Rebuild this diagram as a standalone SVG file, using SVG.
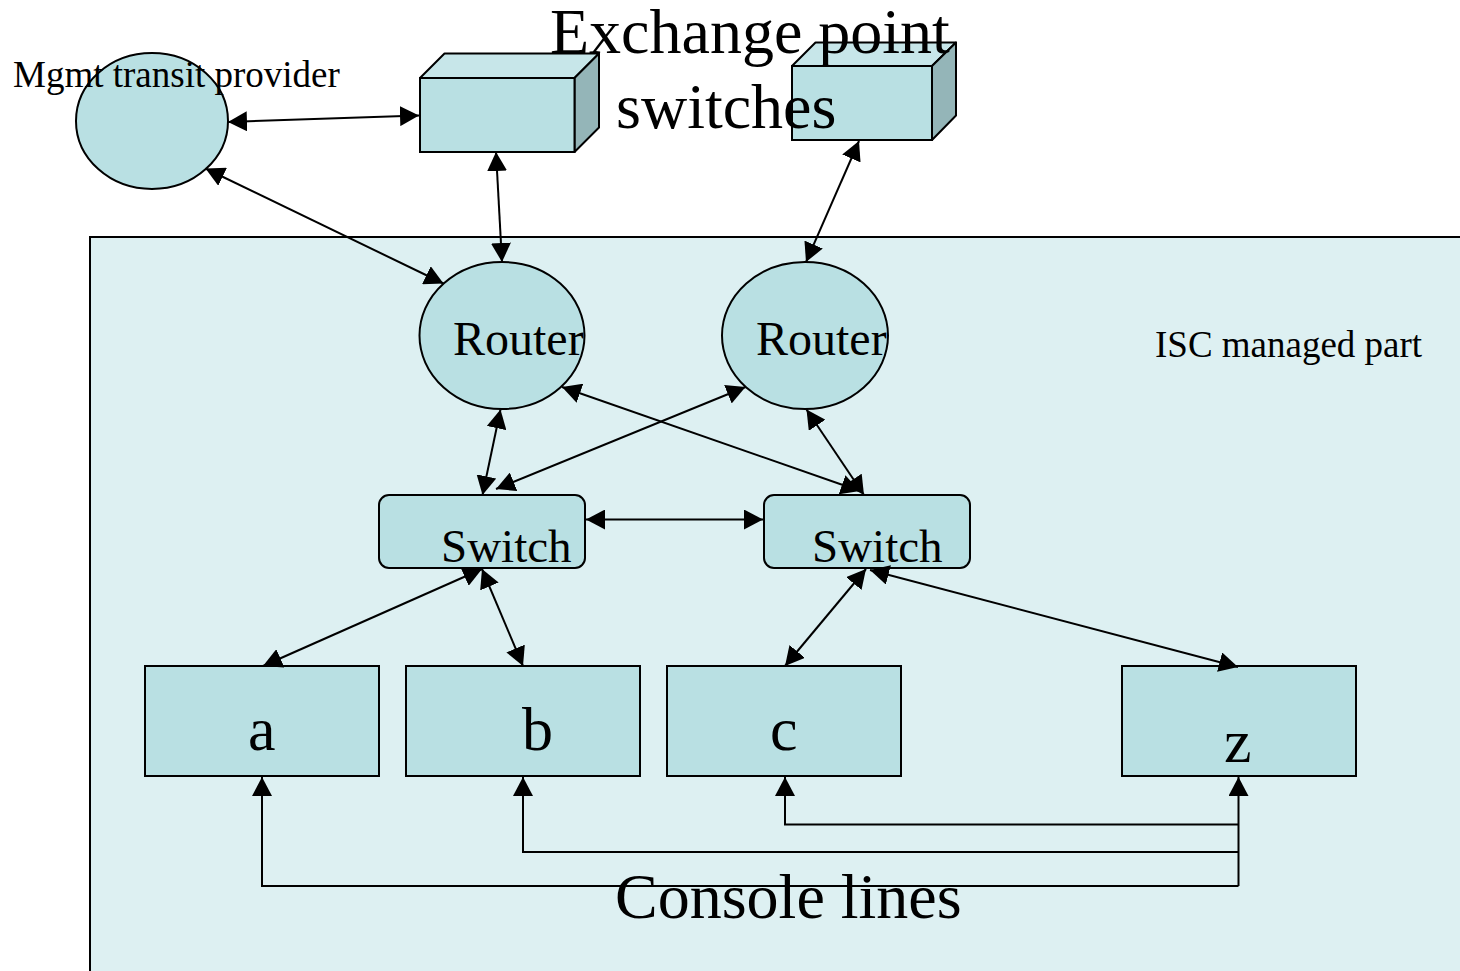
<svg xmlns="http://www.w3.org/2000/svg" width="1460" height="971" viewBox="0 0 1460 971">
<style>
.node{fill:#B9E0E3;stroke:#000;stroke-width:2}
.top{fill:#C7E6E9;stroke:#000;stroke-width:2;stroke-linejoin:round}
.side{fill:#94B5B8;stroke:#000;stroke-width:2;stroke-linejoin:round}
.edge{fill:none;stroke:#000;stroke-width:2;marker-start:url(#ah);marker-end:url(#ah)}
.cons{fill:none;stroke:#000;stroke-width:2}
.t{font-family:"Liberation Serif","Times New Roman",serif;fill:#000}
</style>
<defs>
<marker id="ah" viewBox="0 0 20 20" refX="19" refY="10" markerWidth="20" markerHeight="20" markerUnits="userSpaceOnUse" orient="auto-start-reverse">
<path d="M0,0 L19,10 L0,20 z" fill="#000"/>
</marker>
<marker id="up" viewBox="0 0 20 20" refX="19" refY="10" markerWidth="20" markerHeight="20" markerUnits="userSpaceOnUse" orient="auto">
<path d="M0,0 L19,10 L0,20 z" fill="#000"/>
</marker>
</defs>
<rect x="0" y="0" width="1460" height="971" fill="#fff"/>
<g id="isc-area">
<rect x="90" y="237" width="1420" height="800" fill="#DDF0F2" stroke="#000" stroke-width="2"/>
<text class="t" x="1155" y="357" font-size="37">ISC managed part</text>
</g>
<g id="mgmt">
<ellipse class="node" cx="152" cy="121" rx="76" ry="68"/>
</g>
<g id="exchange1">
<polygon class="top" points="420,78 444.5,53.5 599,53.5 574.5,78"/>
<polygon class="side" points="574.5,78 599,53.5 599,127.5 574.5,152"/>
<rect class="node" x="420" y="78" width="154.5" height="74"/>
</g>
<g id="exchange2">
<polygon class="top" points="792,66 815.5,42.5 956,42.5 932,66"/>
<polygon class="side" points="932,66 956,42.5 956,115.5 932,140"/>
<rect class="node" x="792" y="66" width="140" height="74"/>
</g>
<g id="router1">
<ellipse class="node" cx="502" cy="335.5" rx="82.5" ry="73.5"/>
<text class="t" x="453" y="355" font-size="48">Router</text>
</g>
<g id="router2">
<ellipse class="node" cx="805" cy="335.5" rx="83" ry="73.5"/>
<text class="t" x="756" y="355" font-size="48">Router</text>
</g>
<g id="switch1">
<rect class="node" x="379" y="495" width="206" height="73" rx="10" ry="10"/>
<text class="t" x="441" y="562" font-size="47">Switch</text>
</g>
<g id="switch2">
<rect class="node" x="764" y="495" width="206" height="73" rx="10" ry="10"/>
<text class="t" x="812" y="562" font-size="47">Switch</text>
</g>
<g id="host-a">
<rect class="node" x="145" y="666" width="234" height="110"/>
<text class="t" x="248" y="750" font-size="62">a</text>
</g>
<g id="host-b">
<rect class="node" x="406" y="666" width="234" height="110"/>
<text class="t" x="522" y="750" font-size="62">b</text>
</g>
<g id="host-c">
<rect class="node" x="667" y="666" width="234" height="110"/>
<text class="t" x="770" y="750" font-size="62">c</text>
</g>
<g id="host-z">
<rect class="node" x="1122" y="666" width="234" height="110"/>
<text class="t" x="1224" y="762" font-size="62">z</text>
</g>
<g id="connectors">
<line class="edge" x1="228" y1="122" x2="419" y2="115.5"/>
<line class="edge" x1="205.5" y1="168.5" x2="443.5" y2="283.5"/>
<line class="edge" x1="496" y1="152" x2="502" y2="262"/>
<line class="edge" x1="859" y1="141" x2="806" y2="262"/>
<line class="edge" x1="500.5" y1="409.5" x2="482.5" y2="495"/>
<line class="edge" x1="745.5" y1="387" x2="496" y2="489"/>
<line class="edge" x1="562" y1="387" x2="860" y2="491"/>
<line class="edge" x1="806.5" y1="409.5" x2="864" y2="495"/>
<line class="edge" x1="586" y1="519.5" x2="763" y2="519.5"/>
<line class="edge" x1="482" y1="569" x2="263" y2="666"/>
<line class="edge" x1="482" y1="569" x2="523" y2="666"/>
<line class="edge" x1="866" y1="569" x2="785" y2="666"/>
<line class="edge" x1="870" y1="570" x2="1238" y2="667"/>
<polyline class="cons" marker-end="url(#up)" points="1238.5,886 262,886 262,777"/>
<polyline class="cons" marker-end="url(#up)" points="1238.5,852 523,852 523,777"/>
<polyline class="cons" marker-end="url(#up)" points="1238.5,824.5 785,824.5 785,777"/>
<polyline class="cons" marker-end="url(#up)" points="1238.5,886 1238.5,777"/>
</g>
<g id="labels">
<text class="t" x="13" y="87" font-size="37">Mgmt transit provider</text>
<text class="t" x="550" y="53" font-size="64">Exchange point</text>
<text class="t" x="616" y="128" font-size="64">switches</text>
<text class="t" x="615" y="918" font-size="64">Console lines</text>
</g>
</svg>
